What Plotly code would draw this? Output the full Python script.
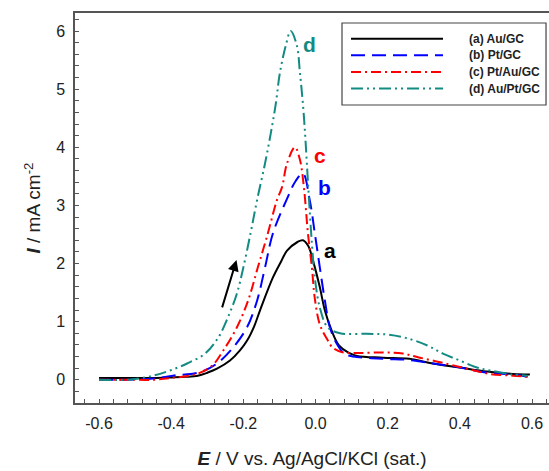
import plotly.graph_objects as go

# ---- data ----
xa = [-0.6, -0.52, -0.45, -0.4, -0.36, -0.326, -0.3, -0.273, -0.237, -0.21, -0.19, -0.17, -0.154, -0.118, -0.095, -0.079, -0.05, -0.035, -0.02, -0.007, 0.012, 0.026, 0.045, 0.065, 0.09, 0.115, 0.187, 0.26, 0.325, 0.40, 0.475, 0.547, 0.594]
ya = [0.03, 0.03, 0.03, 0.04, 0.05, 0.07, 0.12, 0.19, 0.33, 0.50, 0.67, 0.92, 1.19, 1.76, 2.04, 2.22, 2.37, 2.40, 2.30, 2.05, 1.59, 1.19, 0.84, 0.59, 0.47, 0.41, 0.38, 0.36, 0.28, 0.21, 0.14, 0.10, 0.09]

xb = [-0.6, -0.52, -0.45, -0.395, -0.32, -0.273, -0.229, -0.19, -0.162, -0.14, -0.118, -0.08, -0.055, -0.035, -0.016, -0.002, 0.012, 0.026, 0.040, 0.059, 0.08, 0.104, 0.187, 0.26, 0.325, 0.40, 0.475, 0.547, 0.588]
yb = [0.0, 0.0, 0.02, 0.07, 0.13, 0.28, 0.55, 0.90, 1.36, 1.93, 2.52, 3.10, 3.42, 3.55, 3.09, 2.52, 1.93, 1.36, 0.90, 0.62, 0.45, 0.40, 0.36, 0.34, 0.28, 0.21, 0.12, 0.09, 0.05]

xc = [-0.6, -0.52, -0.45, -0.4, -0.329, -0.287, -0.256, -0.218, -0.187, -0.16, -0.132, -0.107, -0.093, -0.079, -0.057, -0.043, -0.032, -0.021, -0.010, -0.002, 0.012, 0.032, 0.048, 0.077, 0.12, 0.187, 0.242, 0.289, 0.353, 0.42, 0.483, 0.547, 0.588]
yc = [0.0, 0.0, 0.0, 0.03, 0.10, 0.24, 0.50, 0.90, 1.36, 1.93, 2.52, 3.09, 3.31, 3.72, 4.0, 3.78, 3.30, 2.52, 1.93, 1.40, 0.95, 0.70, 0.55, 0.47, 0.46, 0.47, 0.45, 0.38, 0.29, 0.19, 0.10, 0.07, 0.05]

xd = [-0.6, -0.52, -0.45, -0.403, -0.356, -0.306, -0.27, -0.243, -0.218, -0.20, -0.18, -0.162, -0.140, -0.124, -0.110, -0.099, -0.082, -0.069, -0.052, -0.043, -0.035, -0.029, -0.024, -0.018, -0.01, -0.002, 0.012, 0.034, 0.068, 0.142, 0.197, 0.25, 0.31, 0.353, 0.40, 0.447, 0.483, 0.547, 0.588]
yd = [0.0, 0.0, 0.07, 0.16, 0.28, 0.45, 0.72, 1.07, 1.48, 1.93, 2.52, 3.09, 3.72, 4.24, 4.75, 5.27, 5.76, 6.0, 5.76, 5.27, 4.75, 4.24, 3.72, 3.10, 2.34, 1.76, 1.24, 0.90, 0.80, 0.79, 0.78, 0.72, 0.59, 0.45, 0.33, 0.21, 0.16, 0.09, 0.07]

series_names = ["(a) Au/GC", "(b) Pt/GC", "(c) Pt/Au/GC", "(d) Au/Pt/GC"]
curve_labels = ["a", "b", "c", "d"]

xtick_vals = [-0.6, -0.4, -0.2, 0.0, 0.2, 0.4, 0.6]
xtick_text = ["-0.6", "-0.4", "-0.2", "0.0", "0.2", "0.4", "0.6"]
ytick_vals = [0, 1, 2, 3, 4, 5, 6]
ytick_text = ["0", "1", "2", "3", "4", "5", "6"]

# ---- styles ----
colors = ["#000000", "#0000ff", "#ff0000", "#138a82"]
dashes = ["solid", "14px,7px", "10px,4px,2px,4px", "12px,4px,2px,4px,2px,4px"]
label_pos = [(0.040, 2.22), (0.026, 3.30), (0.013, 3.86), (-0.016, 5.77)]
FONT = "Arial, Liberation Sans, sans-serif"

fig = go.Figure()
for xs, ys, name, c, d in zip([xa, xb, xc, xd], [ya, yb, yc, yd], series_names, colors, dashes):
    fig.add_trace(go.Scatter(x=xs, y=ys, name=name, mode="lines", showlegend=False,
                             line=dict(color=c, width=2, dash=d, shape="spline", smoothing=1.0)))

for lab, c, (lx, ly) in zip(curve_labels, colors, label_pos):
    fig.add_annotation(x=lx, y=ly, text="<b>%s</b>" % lab, showarrow=False,
                       font=dict(family=FONT, size=21, color=c),
                       xanchor="center", yanchor="middle")

# scan-direction arrow
fig.add_annotation(x=-0.219, y=2.06, ax=-0.26, ay=1.22, xref="x", yref="y", axref="x", ayref="y",
                   text="", showarrow=True, arrowhead=2, arrowsize=1.1, arrowwidth=2, arrowcolor="black")

# ---- legend box (paper coordinates) ----
fig.add_shape(type="rect", xref="paper", yref="paper", x0=0.5633, x1=0.9937, y0=0.7641, y1=0.9744,
              line=dict(color="#444", width=1.2), fillcolor="white", layer="above")
row_y = [0.9341, 0.8918, 0.8487, 0.8064]
for name, c, d, ry in zip(series_names, colors, dashes, row_y):
    fig.add_shape(type="line", xref="paper", yref="paper", x0=0.5823, x1=0.7764, y0=ry, y1=ry,
                  line=dict(color=c, width=2, dash=d), layer="above")
    fig.add_annotation(xref="paper", yref="paper", x=0.827, y=ry, text="<b>%s</b>" % name,
                       showarrow=False, xanchor="left", yanchor="middle",
                       font=dict(family=FONT, size=12, color="#222"))

axis_font = dict(family=FONT, size=16, color="#222")
fig.update_xaxes(range=[-0.6665, 0.647], tickvals=xtick_vals, ticktext=xtick_text, automargin=False,
                 ticks="inside", ticklen=4, tickcolor="#555", showline=True, linecolor="#555", linewidth=1.5,
                 mirror=True, showgrid=False, zeroline=False, tickfont=axis_font, ticklabelstandoff=5,
                 minor=dict(dtick=0.04, tick0=-0.6, ticks="inside", ticklen=4, tickcolor="#555"),
                 title=dict(text="<b><i>E</i></b> / V vs. Ag/AgCl/KCl (sat.)",
                            font=dict(family=FONT, size=19, color="#222"), standoff=21))
fig.update_yaxes(range=[-0.4, 6.31], tickvals=ytick_vals, ticktext=ytick_text, automargin=False,
                 ticks="inside", ticklen=4, tickcolor="#555", showline=True, linecolor="#555", linewidth=1.5,
                 mirror=False, showgrid=False, zeroline=False, tickfont=axis_font, ticklabelstandoff=5,
                 minor=dict(dtick=0.2, tick0=0, ticks="inside", ticklen=4, tickcolor="#555"),
                 title=dict(text="<b><i>I</i></b> / mA cm<sup>-2</sup>",
                            font=dict(family=FONT, size=19, color="#222"), standoff=10))

fig.update_layout(
    width=549, height=471,
    margin=dict(l=75, r=0, t=13, b=68),
    plot_bgcolor="white", paper_bgcolor="white",
    showlegend=False,
)

fig.write_html("out.html", config={"displayModeBar": False},
               post_script="document.body.style.margin='0px';")
